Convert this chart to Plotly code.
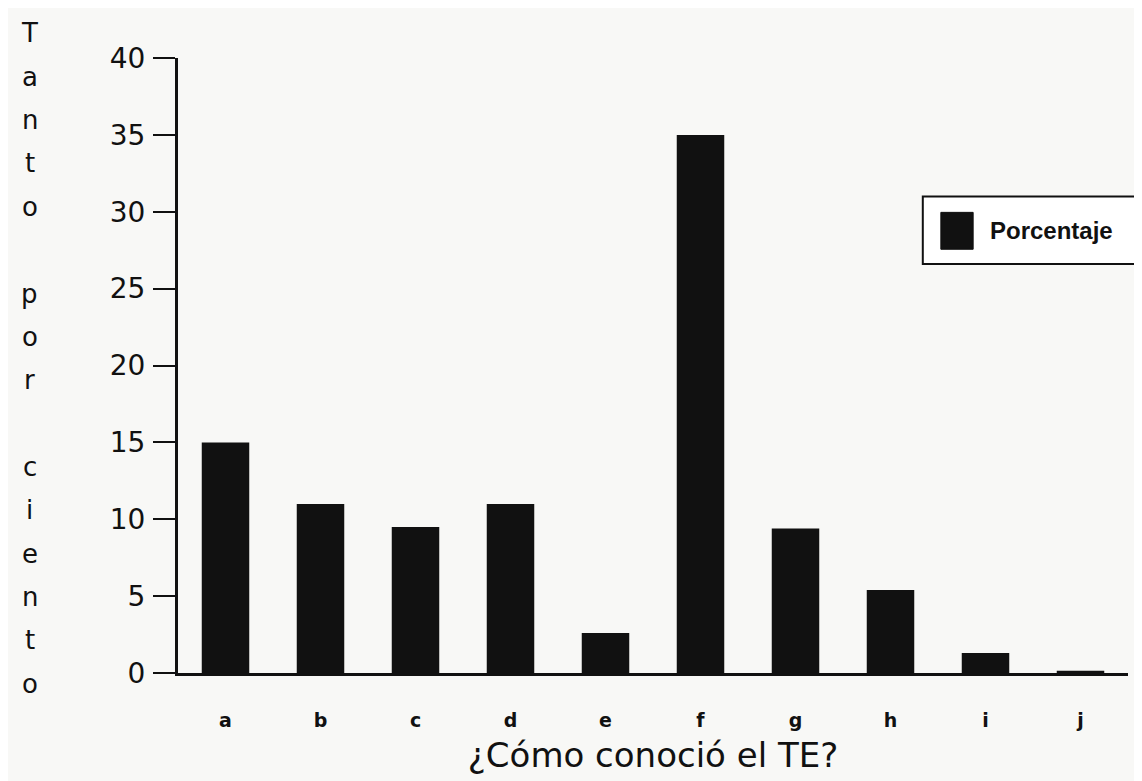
import plotly.graph_objects as go

# Data
categories = ["a", "b", "c", "d", "e", "f", "g", "h", "i", "j"]
porcentaje = [15, 11, 9.5, 11, 2.6, 35, 9.4, 5.4, 1.3, 0.15]
y_ticks = [0, 5, 10, 15, 20, 25, 30, 35, 40]
y_title = "Tanto por ciento"
series_name = "Porcentaje"

fig = go.Figure()

fig.add_trace(go.Bar(
    x=categories,
    y=porcentaje,
    name=series_name,
    marker=dict(color="#111111", line=dict(width=0)),
    width=0.5,
    showlegend=False,
))

# vertical, letter-by-letter y title like the scan
for i, ch in enumerate(y_title):
    fig.add_annotation(
        text=ch, xref="paper", yref="paper",
        x=-0.156, y=1.04 - i * 0.0705, xanchor="center", yanchor="middle",
        showarrow=False, font=dict(size=26, color="#111", family="DejaVu Sans"),
    )

# legend box (drawn by hand so the swatch can be as big as in the scan)
fig.add_shape(type="rect", xref="paper", yref="paper",
              x0=0.784, x1=1.05, y0=0.665, y1=0.775,
              line=dict(color="#111", width=2), fillcolor="#ffffff", layer="above")
fig.add_shape(type="rect", xref="paper", yref="paper",
              x0=0.803, x1=0.837, y0=0.689, y1=0.749,
              line=dict(color="#111", width=1), fillcolor="#111111", layer="above")
fig.add_annotation(text="<b>" + series_name + "</b>", xref="paper", yref="paper",
                   x=0.853, y=0.719, xanchor="left", yanchor="middle", showarrow=False,
                   font=dict(size=24, color="#111", family="Liberation Sans"))

fig.update_layout(
    width=1134, height=773,
    paper_bgcolor="#f8f8f6", plot_bgcolor="#f8f8f6",
    margin=dict(l=170, r=14, t=50, b=93),
    font=dict(family="DejaVu Sans", color="#111"),
    showlegend=False,
    xaxis=dict(
        tickmode="array", tickvals=categories, ticktext=["<b>%s</b>" % t for t in categories],
        tickfont=dict(size=19, family="DejaVu Sans"),
        range=[-0.5, 9.5],
        showline=True, linecolor="#111", linewidth=3,
        ticks="", showgrid=False, zeroline=False,
        title=dict(text="¿Cómo conoció el TE?", standoff=14,
                   font=dict(size=34, family="DejaVu Sans")),
        ticklabelstandoff=28,
    ),
    yaxis=dict(
        range=[0, 40], tickvals=y_ticks,
        tickfont=dict(size=28, family="DejaVu Sans"),
        showline=True, linecolor="#111", linewidth=3,
        ticks="outside", ticklen=22, tickwidth=2, tickcolor="#111",
        ticklabelstandoff=2,
        showgrid=False, zeroline=False,
    ),
)

fig.write_html("out.html")
